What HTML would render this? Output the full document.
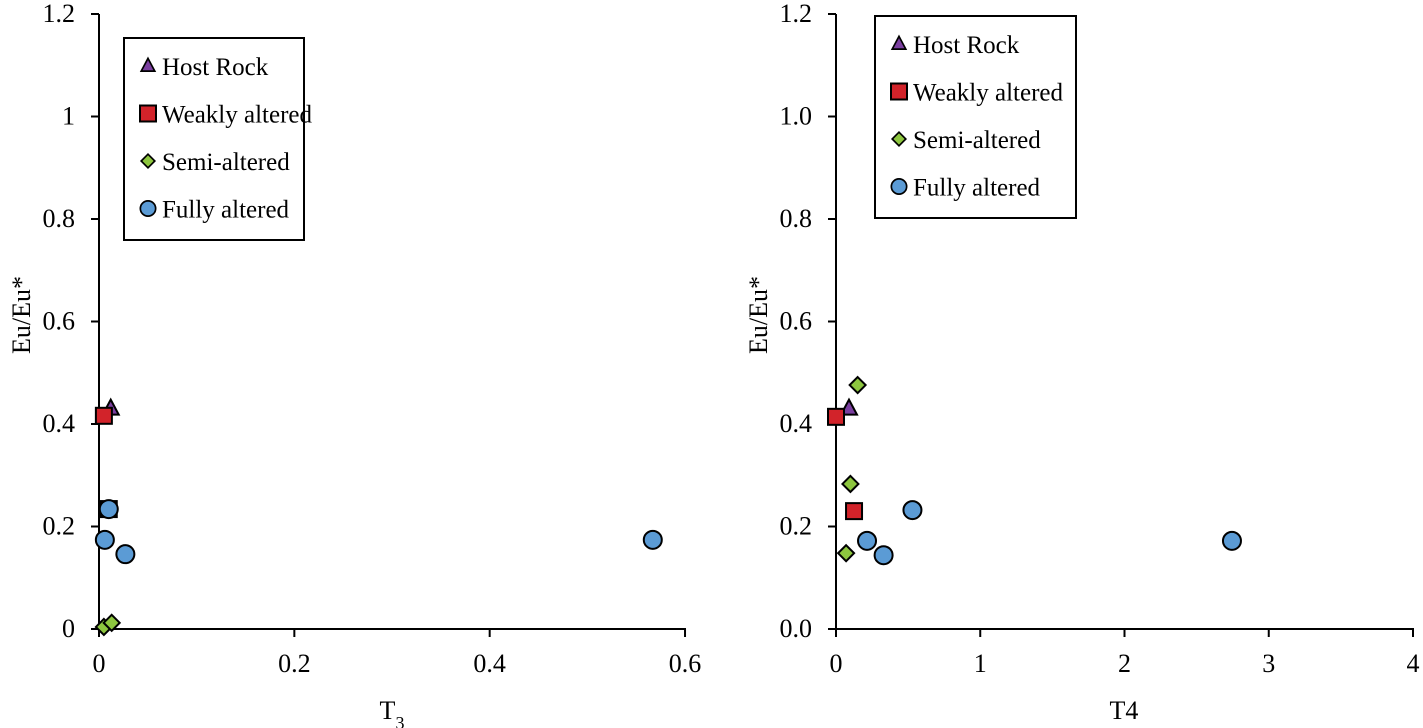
<!DOCTYPE html>
<html><head><meta charset="utf-8"><style>
html,body{margin:0;padding:0;background:#fff}
svg{display:block;font-family:"Liberation Serif",serif}
</style></head><body>
<svg id="c" width="1423" height="728" viewBox="0 0 1423 728"></svg>
<script>
const seriesNames=["Host Rock","Weakly altered","Semi-altered","Fully altered"];
const leftHostX=[0.012], leftHostY=[0.43];
const leftWeakX=[0.005,0.010], leftWeakY=[0.416,0.234];
const leftSemiX=[0.005,0.013], leftSemiY=[0.004,0.012];
const leftFullX=[0.010,0.006,0.027,0.567], leftFullY=[0.234,0.174,0.146,0.174];
const rightHostX=[0.09], rightHostY=[0.43];
const rightWeakX=[0.0,0.125], rightWeakY=[0.414,0.23];
const rightSemiX=[0.15,0.10,0.07], rightSemiY=[0.476,0.283,0.148];
const rightFullX=[0.215,0.33,0.53,2.745], rightFullY=[0.172,0.144,0.232,0.172];
const leftXTicks=["0","0.2","0.4","0.6"], leftXTickVals=[0,0.2,0.4,0.6];
const leftYTicks=["0","0.2","0.4","0.6","0.8","1","1.2"];
const rightXTicks=["0","1","2","3","4"], rightXTickVals=[0,1,2,3,4];
const rightYTicks=["0.0","0.2","0.4","0.6","0.8","1.0","1.2"];
const yTickVals=[0,0.2,0.4,0.6,0.8,1.0,1.2];

const NS="http://www.w3.org/2000/svg";
const svg=document.getElementById('c');
function el(t,a,p){const e=document.createElementNS(NS,t);for(const k in a)e.setAttribute(k,a[k]);(p||svg).appendChild(e);return e;}

function marker(g,type,cx,cy){
  let e;
  if(type===0){e=el('polygon',{points:`${cx},${cy-9} ${cx+8},${cy+6} ${cx-8},${cy+6}`,fill:'#7b3fa0',stroke:'#000','stroke-width':2},g);}
  else if(type===1){e=el('rect',{x:cx-8,y:cy-8,width:16,height:16,fill:'#d2232a',stroke:'#000','stroke-width':2},g);}
  else if(type===2){e=el('polygon',{points:`${cx},${cy-8} ${cx+8},${cy} ${cx},${cy+8} ${cx-8},${cy}`,fill:'#8dc63f',stroke:'#000','stroke-width':2},g);}
  else {e=el('circle',{cx:cx,cy:cy,r:9,fill:'#5b9bd5',stroke:'#000','stroke-width':2},g);}
  return e;
}

function panel(o){
  const g=el('g',{});
  
  
  const sx=v=>o.x0+v*o.xs, sy=v=>629-v*512.5;
  const ya=el('line',{x1:o.x0,y1:14,x2:o.x0,y2:631,stroke:'#000','stroke-width':2},g);
  
  const xa=el('line',{x1:o.x0-1,y1:629,x2:o.xEnd,y2:629,stroke:'#000','stroke-width':2},g);
  
  yTickVals.forEach((v,i)=>{
    el('line',{x1:o.x0-8,y1:sy(v),x2:o.x0,y2:sy(v),stroke:'#000','stroke-width':2},g);
    const t=el('text',{x:o.x0-24,y:sy(v)+8,'text-anchor':'end','font-size':26},g);
    t.textContent=o.yt[i];
    
  });
  o.xv.forEach((v,i)=>{
    el('line',{x1:sx(v),y1:629,x2:sx(v),y2:637,stroke:'#000','stroke-width':2},g);
    const t=el('text',{x:sx(v),y:672,'text-anchor':'middle','font-size':26},g);
    t.textContent=o.xt[i];
    
  });
  const yt=el('text',{x:0,y:0,'text-anchor':'middle','font-size':26,transform:`translate(${o.x0-69},315) rotate(-90)`},g);
  yt.textContent='Eu/Eu*';
  
  const xt=el('text',{x:o.xtX,y:719,'text-anchor':'middle','font-size':26},g);
  xt.innerHTML=o.xtitle;
  
  o.data.forEach((d,s)=>{
    d[0].forEach((xv,i)=>{
      const m=marker(g,s,sx(xv),sy(d[1][i]));
      
      
    });
  });
  const lg=el('g',{},g);
  
  el('rect',{x:o.lx,y:o.ly,width:o.lw,height:202,fill:'#fff',stroke:'#000','stroke-width':2},lg);
  seriesNames.forEach((n,s)=>{
    const yy=o.ly+28+s*47.5;
    const e=el('g',{},lg);
    
    const m=marker(e,s,o.lx+24,yy);
    if(s!==1) m.setAttribute('transform',`translate(${o.lx+24},${yy}) scale(0.85) translate(${-(o.lx+24)},${-yy})`);
    const t=el('text',{x:o.lx+38,y:yy+9,'font-size':25},e);
    t.textContent=n;
  });
}

panel({name:'left-panel',x0:99,xs:976.7,xEnd:686,yt:leftYTicks,xt:leftXTicks,xv:leftXTickVals,
  xtitle:'T<tspan baseline-shift="sub" font-size="18">3</tspan>',xtX:392,
  lx:124,ly:38,lw:180,
  data:[[leftHostX,leftHostY],[leftWeakX,leftWeakY],[leftSemiX,leftSemiY],[leftFullX,leftFullY]]});
panel({name:'right-panel',x0:836,xs:144.25,xEnd:1414,yt:rightYTicks,xt:rightXTicks,xv:rightXTickVals,
  xtitle:'T4',xtX:1124,
  lx:875,ly:16,lw:201,
  data:[[rightHostX,rightHostY],[rightWeakX,rightWeakY],[rightSemiX,rightSemiY],[rightFullX,rightFullY]]});
</script>
</body></html>
